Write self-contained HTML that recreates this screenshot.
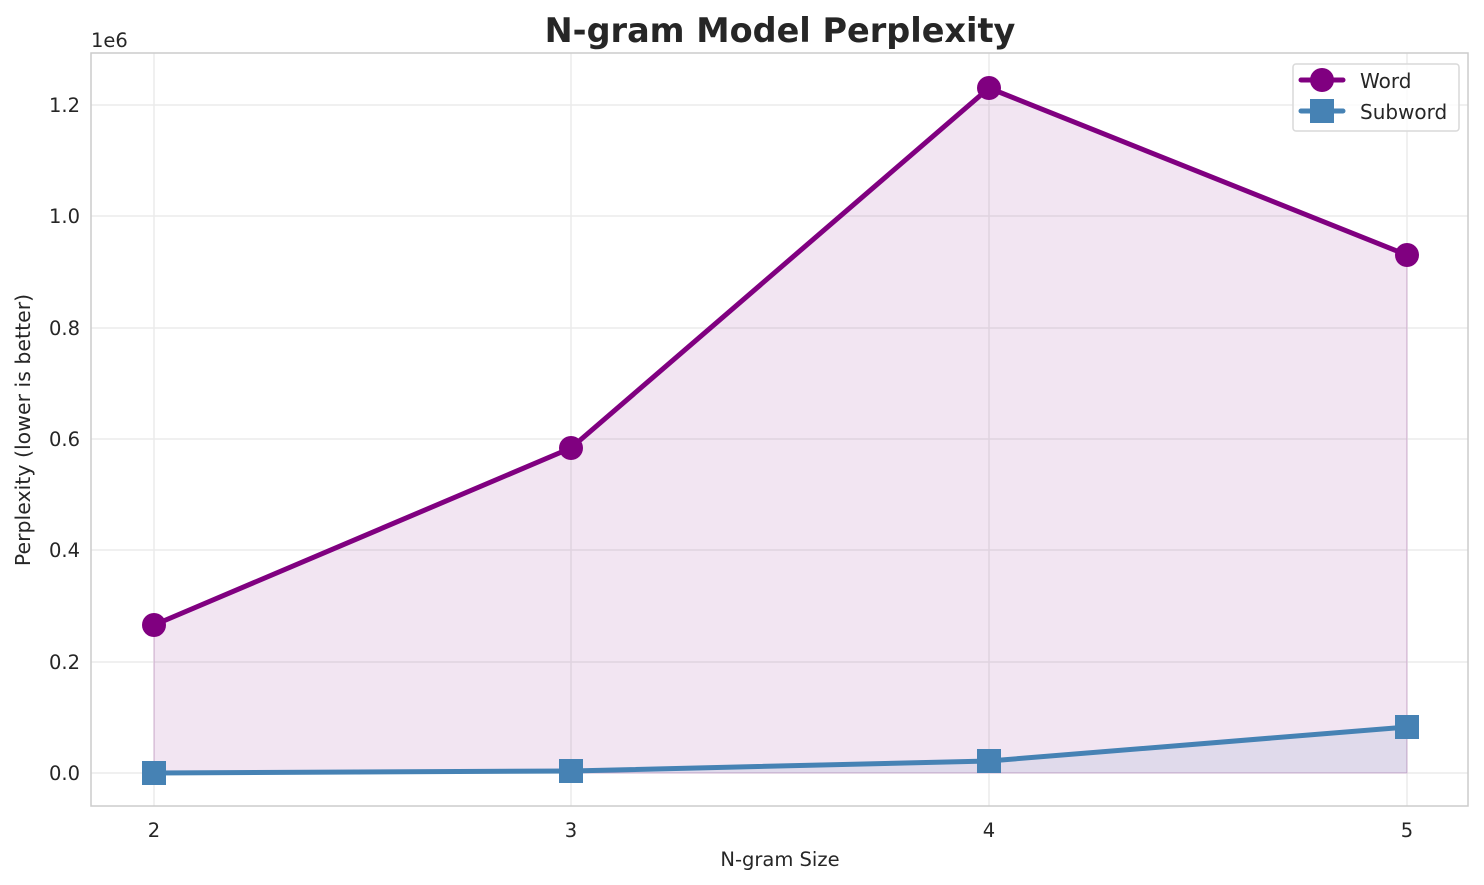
<!DOCTYPE html>
<html><head><style>body{margin:0;background:#fff}svg{display:block}text{font-family:"DejaVu Sans","Liberation Sans",sans-serif;fill:#262626}</style></head>
<body>
<svg width="1484" height="885" viewBox="0 0 1484 885">
<g stroke="#ebebeb" stroke-width="1.5">
<line x1="154" y1="53" x2="154" y2="806"/><line x1="571" y1="53" x2="571" y2="806"/><line x1="989" y1="53" x2="989" y2="806"/><line x1="1407" y1="53" x2="1407" y2="806"/>
<line x1="91" y1="773" x2="1468" y2="773"/><line x1="91" y1="662" x2="1468" y2="662"/><line x1="91" y1="550" x2="1468" y2="550"/><line x1="91" y1="439" x2="1468" y2="439"/><line x1="91" y1="328" x2="1468" y2="328"/><line x1="91" y1="216" x2="1468" y2="216"/><line x1="91" y1="105" x2="1468" y2="105"/>
</g>
<polygon points="154,625 571,448 989,88 1407,255 1407,773 154,773" fill="#800080" fill-opacity="0.1" stroke="#800080" stroke-opacity="0.2"/>
<polygon points="154,773 571,771 989,761 1407,727 1407,773 154,773" fill="#4682b4" fill-opacity="0.1"/>
<polyline points="154,625 571,448 989,88 1407,255" fill="none" stroke="#800080" stroke-width="5" stroke-linejoin="round"/>
<g fill="#800080"><circle cx="154" cy="625" r="12"/><circle cx="571" cy="448" r="12"/><circle cx="989" cy="88" r="12"/><circle cx="1407" cy="255" r="12"/></g>
<polyline points="154,773 571,771 989,761 1407,727" fill="none" stroke="#4682b4" stroke-width="5" stroke-linejoin="round"/>
<g fill="#4682b4"><rect x="142" y="761" width="24" height="24"/><rect x="559" y="759" width="24" height="24"/><rect x="977" y="749" width="24" height="24"/><rect x="1395" y="715" width="24" height="24"/></g>
<rect x="91" y="53" width="1377" height="753" fill="none" stroke="#cccccc" stroke-width="1.5"/>
<g font-size="19.5" text-anchor="end">
<text x="80" y="780">0.0</text><text x="80" y="669">0.2</text><text x="80" y="557">0.4</text><text x="80" y="446">0.6</text><text x="80" y="335">0.8</text><text x="80" y="223">1.0</text><text x="80" y="112">1.2</text>
</g>
<text x="91" y="47" font-size="19.5">1e6</text>
<g font-size="19.5" text-anchor="middle">
<text x="154" y="837">2</text><text x="571" y="837">3</text><text x="989" y="837">4</text><text x="1407" y="837">5</text>
<text x="780" y="866">N-gram Size</text>
</g>
<text transform="translate(30,430) rotate(-90)" font-size="20.5" text-anchor="middle">Perplexity (lower is better)</text>
<text x="780" y="42" font-size="33.5" font-weight="bold" text-anchor="middle">N-gram Model Perplexity</text>
<rect x="1293" y="64" width="166" height="67" rx="3" fill="#fff" fill-opacity="0.8" stroke="#d9d9d9" stroke-width="1.5"/>
<line x1="1301" y1="80" x2="1343" y2="80" stroke="#800080" stroke-width="5" stroke-linecap="round"/>
<circle cx="1322" cy="80" r="12" fill="#800080"/>
<line x1="1301" y1="111" x2="1343" y2="111" stroke="#4682b4" stroke-width="5" stroke-linecap="round"/>
<rect x="1310" y="99" width="24" height="24" fill="#4682b4"/>
<text x="1360" y="88" font-size="20">Word</text>
<text x="1360" y="119" font-size="20">Subword</text>
</svg>
</body></html>
